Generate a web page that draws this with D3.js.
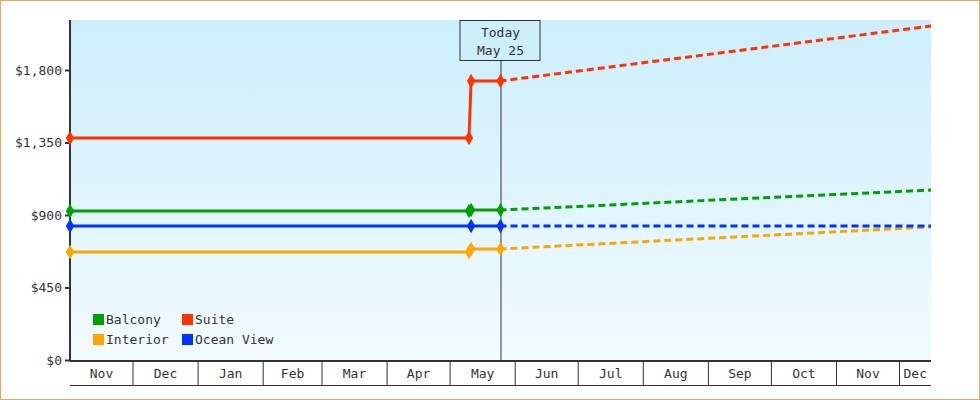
<!DOCTYPE html>
<html><head><meta charset="utf-8">
<script src="https://cdn.jsdelivr.net/npm/d3@7"></script>
<style>body{margin:0}svg{display:block}text{font-family:"DejaVu Sans Mono",monospace;font-size:13px;fill:#333}</style>
</head><body><svg id="c" width="980" height="400"></svg>
<script>
const seriesNames=["Balcony","Suite","Interior","Ocean View"];
const colors=["#00a000","#ff3300","#ffa500","#0033ff"];
const histDates=["2022-11-01","2023-05-10","2023-05-11","2023-05-25"];
const balcony=[925,925,931,931];
const suite=[1378,1378,1732,1732];
const interior=[670,670,689,689];
const ocean=[832,832,832,832];
const projEnd="2023-12-16";
const projVals=[1055,2073,826,832];
const yTicks=[0,450,900,1350,1800];
const months=["Nov","Dec","Jan","Feb","Mar","Apr","May","Jun","Jul","Aug","Sep","Oct","Nov","Dec"];

const P=d3.timeParse("%Y-%m-%d");
const svg=d3.select("#c");
svg.append("rect").attr("x",0.5).attr("y",0.5).attr("width",979).attr("height",399).attr("fill","#fff").attr("stroke","#e8a860");
const L=70,R=931,T=20,B=360;
const x=d3.scaleTime().domain([P("2022-11-01"),P(projEnd)]).range([L,R]);
const y=d3.scaleLinear().domain([0,1800]).range([B,70]);
const defs=svg.append("defs");
const g=defs.append("linearGradient").attr("id","bg").attr("x1",0).attr("x2",0).attr("y1",0).attr("y2",1);
g.append("stop").attr("offset",0).attr("stop-color","#cceefc");
g.append("stop").attr("offset",1).attr("stop-color","#f2fbff");
svg.append("rect").attr("x",L).attr("y",T).attr("width",R-L).attr("height",B-T).attr("fill","url(#bg)");

const ya=svg.append("g").attr("transform",`translate(${L},0)`).call(d3.axisLeft(y).tickValues(yTicks).tickSize(5).tickFormat(d=>"$"+d3.format(",")(d)));
ya.select(".domain").remove();
ya.selectAll("line").attr("stroke","#333").attr("stroke-width",2);
ya.selectAll("text").attr("font-family","DejaVu Sans Mono").attr("font-size",13).attr("fill","#333");
svg.append("line").attr("x1",L).attr("x2",L).attr("y1",T).attr("y2",B).attr("stroke","#333").attr("stroke-width",2);

const mStarts=d3.timeMonth.range(P("2022-11-01"),P(projEnd));
mStarts.forEach((d,i)=>{
  const x0=x(d), x1=Math.min(R,x(d3.timeMonth.offset(d,1)));
  svg.append("text").attr("x",(x0+x1)/2).attr("y",378).attr("text-anchor","middle").text(months[i]);
  if(i>0) svg.append("line").attr("x1",x0).attr("x2",x0).attr("y1",B).attr("y2",385).attr("stroke","#333");
});
svg.append("line").attr("x1",L).attr("x2",R).attr("y1",B+1).attr("y2",B+1).attr("stroke","#333").attr("stroke-width",2);
svg.append("line").attr("x1",L).attr("x2",R).attr("y1",385.5).attr("y2",385.5).attr("stroke","#333");

const today=P("2023-05-25");
svg.append("line").attr("x1",x(today)+0.5).attr("x2",x(today)+0.5).attr("y1",60).attr("y2",B).attr("stroke","#333");
svg.append("rect").attr("x",x(today)-40.5).attr("y",20.5).attr("width",80).attr("height",40).attr("fill","#cdeffb").attr("stroke","#333");
svg.append("text").attr("x",x(today)).attr("y",37).attr("text-anchor","middle").text("Today");
svg.append("text").attr("x",x(today)).attr("y",55).attr("text-anchor","middle").text("May 25");

const data=[balcony,suite,interior,ocean];
const hd=histDates.map(P);
const line=d3.line().x(d=>x(d[0])).y(d=>y(d[1]));
data.forEach((vals,i)=>{
  const pts=hd.map((d,j)=>[d,vals[j]]);
  svg.append("path").attr("d",line(pts)).attr("fill","none").attr("stroke",colors[i]).attr("stroke-width",3);
  const pr=[[today,vals[vals.length-1]],[P(projEnd),projVals[i]]];
  svg.append("path").attr("d",line(pr)).attr("fill","none").attr("stroke",colors[i]).attr("stroke-width",3).attr("stroke-dasharray","7,4").attr("stroke-dashoffset",-10);
  pts.forEach((p,j)=>{ if(j===1&&vals[1]===vals[2]) return;
    svg.append("path").attr("d",d3.symbol(d3.symbolDiamond,60)()).attr("transform",`translate(${x(p[0])},${y(p[1])})`).attr("fill",colors[i]);});
});

const lg=[[0,0],[1,0],[0,1],[1,1]];
seriesNames.forEach((n,i)=>{
  const lx=93+lg[i][0]*89, ly=314+lg[i][1]*20;
  svg.append("rect").attr("x",lx).attr("y",ly).attr("width",11).attr("height",11).attr("fill",colors[i]);
  svg.append("text").attr("x",lx+13).attr("y",ly+10).text(n);
});
</script></body></html>
